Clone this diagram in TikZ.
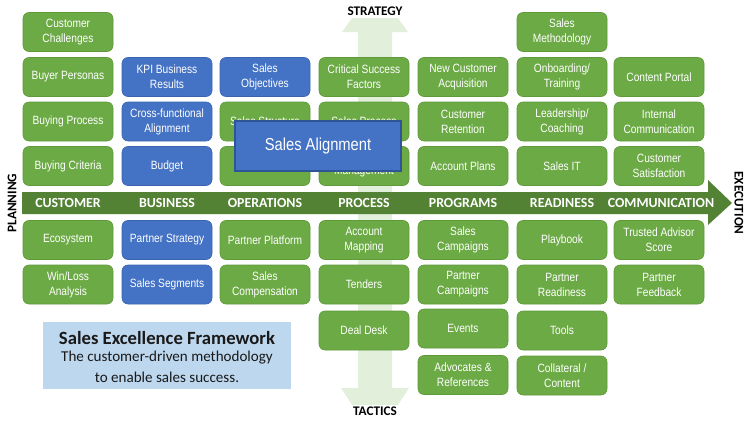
\documentclass[tikz,border=0pt]{standalone}
\usepackage{fontspec}
\setmainfont{Carlito}
\newfontfamily\boxfont[FakeStretch=0.85]{Liberation Sans}
\definecolor{boxgreen}{HTML}{6CAA45}
\definecolor{boxgreenborder}{HTML}{5E9A3A}
\definecolor{boxblue}{HTML}{4472C4}
\definecolor{boxblueborder}{HTML}{3A64B0}
\definecolor{bandgreen}{HTML}{548235}
\definecolor{lightarrow}{HTML}{E2EFDA}
\definecolor{lightblue}{HTML}{BDD7EE}
\definecolor{alignborder}{HTML}{2F5597}
\begin{document}
\begin{tikzpicture}[x=0.75pt,y=-0.75pt,
 box/.style={rounded corners=4.5pt, minimum width=67.5pt, minimum height=29.25pt, inner sep=0pt, align=center, text=white, font=\boxfont\fontsize{9}{11.25}\selectfont, line width=0.5pt},
 gbox/.style={box, fill=boxgreen, draw=boxgreenborder},
 bbox/.style={box, fill=boxblue, draw=boxblueborder},
 hdr/.style={text=white, font=\bfseries\fontsize{10.4}{12}\selectfont, inner sep=0pt},
 side/.style={text=black, font=\bfseries\fontsize{9.9}{12}\selectfont, inner sep=1pt}]
\useasboundingbox (0,0) rectangle (750,421);
% vertical light arrow
\begin{scope}
\clip (330,18) rectangle (420,404);
\fill[lightarrow] (358,388) -- (358,32) -- (342,32) -- (375,-14) -- (408,32) -- (392,32) -- (392,388) -- (409,388) -- (375,440) -- (341,388) -- cycle;
\end{scope}
% horizontal band arrow
\fill[bandgreen] (22,192) -- (708,192) -- (708,180) -- (732,203) -- (708,225) -- (708,214) -- (22,214) -- cycle;
% column 1
\node[gbox] (c1r0) at (68,32) {Customer\\Challenges};
\node[gbox] (c1r1) at (68,77) {Buyer Personas};
\node[gbox] (c1r2) at (68,121.5) {Buying Process};
\node[gbox] (c1r3) at (68,166) {Buying Criteria};
\node[gbox] (c1b1) at (68,240) {Ecosystem};
\node[gbox] (c1b2) at (68,284.5) {Win/Loss\\Analysis};
% column 2
\node[bbox] (c2r1) at (167,77) {KPI Business\\Results};
\node[bbox] (c2r2) at (167,121.5) {Cross-functional\\Alignment};
\node[bbox] (c2r3) at (167,166) {Budget};
\node[bbox] (c2b1) at (167,240) {Partner Strategy};
\node[bbox] (c2b2) at (167,284.5) {Sales Segments};
% column 3
\node[bbox] (c3r1) at (265,77) {Sales\\Objectives};
\node[gbox] (c3r2) at (265,121.5) {Sales Structure};
\node[gbox] (c3r3) at (265,166) {};
\node[gbox] (c3b1) at (265,240) {Partner Platform};
\node[gbox] (c3b2) at (265,284.5) {Sales\\Compensation};
% column 4
\node[gbox] (c4r1) at (364,77) {Critical Success\\Factors};
\node[gbox] (c4r2) at (364,121.5) {Sales Process};
\node[gbox] (c4r3) at (364,166) {\mbox{}\\[4pt]Management};
\node[gbox] (c4b1) at (364,240) {Account\\Mapping};
\node[gbox] (c4b2) at (364,284.5) {Tenders};
\node[gbox] (c4b3) at (364,330.5) {Deal Desk};
% column 5
\node[gbox] (c5r1) at (463,77) {New Customer\\Acquisition};
\node[gbox] (c5r2) at (463,121.5) {Customer\\Retention};
\node[gbox] (c5r3) at (463,166) {Account Plans};
\node[gbox] (c5b1) at (463,240) {Sales\\Campaigns};
\node[gbox] (c5b2) at (463,284.5) {Partner\\Campaigns};
\node[gbox] (c5b3) at (463,328.5) {Events};
\node[gbox] (c5b4) at (463,375) {Advocates \&\\References};
% column 6
\node[gbox] (c6r0) at (562,32) {Sales\\Methodology};
\node[gbox] (c6r1) at (562,77) {Onboarding/\\Training};
\node[gbox] (c6r2) at (562,121.5) {Leadership/\\Coaching};
\node[gbox] (c6r3) at (562,166) {Sales IT};
\node[gbox] (c6b1) at (562,240) {Playbook};
\node[gbox] (c6b2) at (562,284.5) {Partner\\Readiness};
\node[gbox] (c6b3) at (562,330.5) {Tools};
\node[gbox] (c6b4) at (562,375.5) {Collateral /\\Content};
% column 7
\node[gbox] (c7r1) at (659,77) {Content Portal};
\node[gbox] (c7r2) at (659,121.5) {Internal\\Communication};
\node[gbox] (c7r3) at (659,166) {Customer\\Satisfaction};
\node[gbox] (c7b1) at (659,240) {Trusted Advisor\\Score};
\node[gbox] (c7b2) at (659,284.5) {Partner\\Feedback};
% overlay
\node[fill=boxblue, draw=alignborder, line width=0.8pt, minimum width=124.5pt, minimum height=37.5pt, inner sep=0pt, text=white, font=\boxfont\fontsize{13}{14}\selectfont] (salign) at (318,146) {Sales Alignment};
% headers
\node[hdr] (h1) at (68,203) {CUSTOMER};
\node[hdr] (h2) at (167,203) {BUSINESS};
\node[hdr] (h3) at (265,203) {OPERATIONS};
\node[hdr] (h4) at (364,203) {PROCESS};
\node[hdr] (h5) at (463,203) {PROGRAMS};
\node[hdr] (h6) at (562,203) {READINESS};
\node[hdr] (h7) at (661,203) {COMMUNICATION};
% side labels
\node[side] (strategy) at (375,11.5) {STRATEGY};
\node[side] (tactics) at (375,411.5) {TACTICS};
\node[side, rotate=90] (planning) at (12,203) {PLANNING};
\node[side, rotate=-90] (execution) at (739,203) {EXECUTION};
% framework box
\node[fill=lightblue, minimum width=186pt, minimum height=50.25pt, inner sep=0pt] (sef) at (167,355.5) {};
\node[font=\bfseries\fontsize{14}{17}\selectfont, text=black!90, inner sep=0pt] (sefT) at (167,338) {Sales Excellence Framework};
\node[font=\fontsize{11.3}{14}\selectfont, text=black!90, inner sep=0pt] (sefS1) at (167,358) {The customer-driven methodology};
\node[font=\fontsize{11.3}{14}\selectfont, text=black!90, inner sep=0pt] (sefS2) at (167,377) {to enable sales success.};
\end{tikzpicture}
\end{document}
